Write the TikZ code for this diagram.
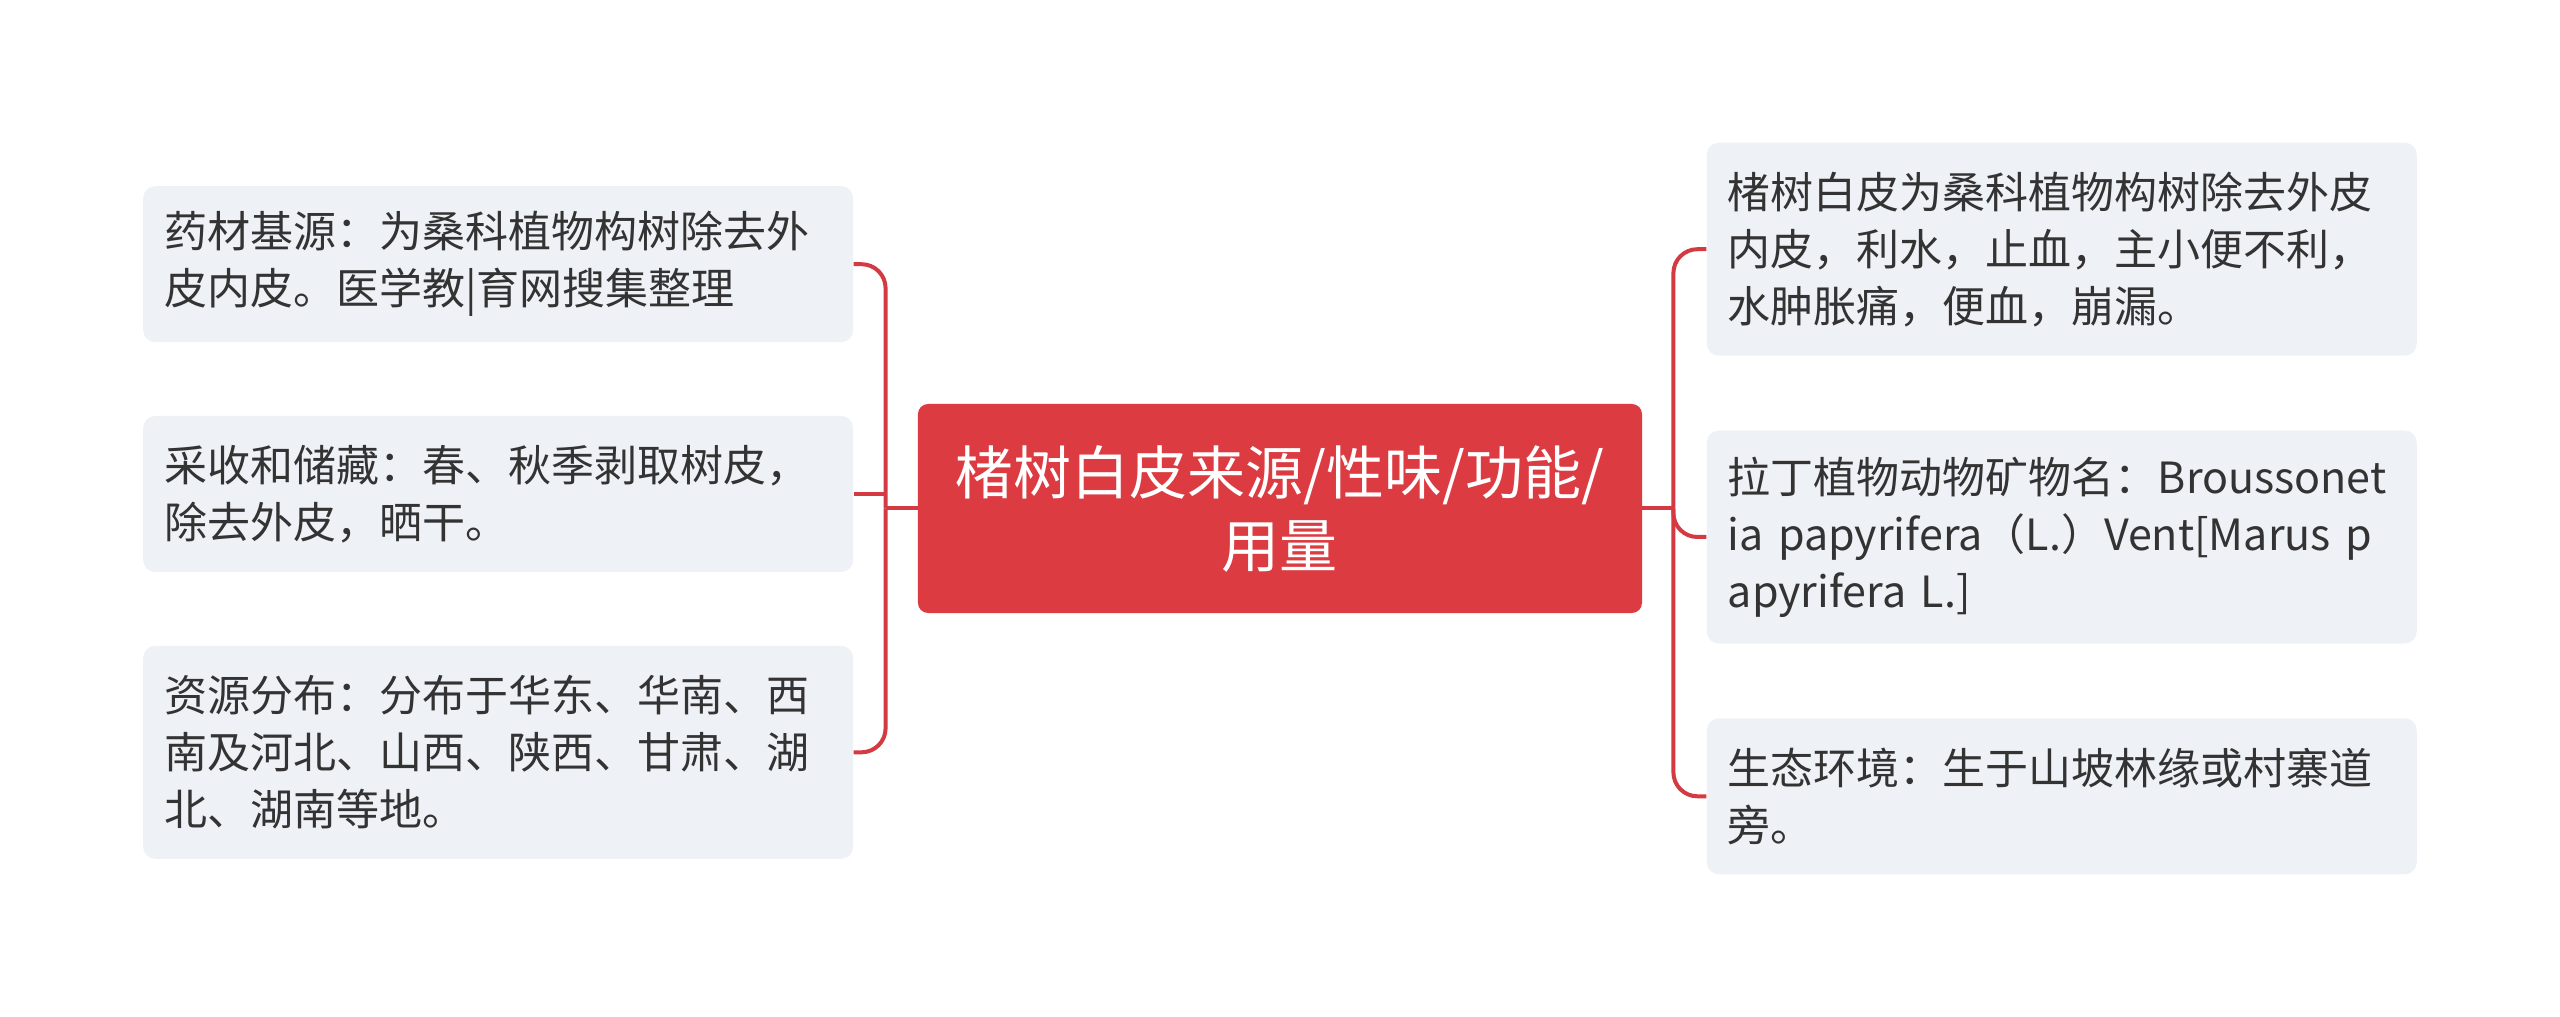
\documentclass[tikz,border=0pt]{standalone}
\usepackage{fontspec}
\newfontfamily\cjk{Noto Sans CJK SC}
\usetikzlibrary{positioning}
\definecolor{rootred}{RGB}{220,59,66}
\definecolor{linkred}{RGB}{211,58,66}
\definecolor{boxgray}{RGB}{238,241,245}
\definecolor{ink}{RGB}{51,51,51}

\begin{document}
\begin{tikzpicture}[
  main/.style={rectangle,rounded corners=5pt,fill=rootred,text=white,minimum width=362pt,minimum height=104.5pt,align=center,font=\cjk\fontsize{29pt}{36.5pt}\selectfont},
  sub/.style={rectangle,rounded corners=6pt,fill=boxgray,text=ink,text width=334pt,inner xsep=10.5pt,inner ysep=6pt,align=left,font=\cjk\fontsize{21.5pt}{28.5pt}\selectfont},
  two/.style={minimum height=78pt},
  three/.style={minimum height=106.5pt},
  wire/.style={draw=linkred,line width=2pt,rounded corners=12pt}]
\useasboundingbox (-640pt,-254.25pt) rectangle (640pt,254.25pt);
\node[main] (root) at (0,0) {楮树白皮来源/性味/功能/\\用量};
% left side
\node[sub,two,left=32pt of root,yshift=7.25pt] (harvest) {采收和储藏：春、秋季剥取树皮，\\除去外皮，晒干。};
\node[sub,two,above=36.5pt of harvest] (origin) {药材基源：为桑科植物构树除去外\\皮内皮。医学教|育网搜集整理};
\node[sub,three,below=36.5pt of harvest] (range) {资源分布：分布于华东、华南、西\\南及河北、山西、陕西、甘肃、湖\\北、湖南等地。};
% right side
\node[sub,three,right=32pt of root,yshift=-14.25pt] (latin) {拉丁植物动物矿物名：Broussonet\\ia papyrifera（L.）Vent[Marus p\\apyrifera L.]};
\node[sub,three,above=37pt of latin] (effect) {楮树白皮为桑科植物构树除去外皮\\内皮，利水，止血，主小便不利，\\水肿胀痛，便血，崩漏。};
\node[sub,two,below=37pt of latin] (habitat) {生态环境：生于山坡林缘或村寨道\\旁。};
\coordinate (lhub) at ([xshift=-16pt]root.west);
\coordinate (rhub) at ([xshift=15.5pt]root.east);
\draw[wire] (root.west) -- (lhub);
\draw[wire] (lhub) |- (origin.east);
\draw[wire] (lhub |- harvest.east) -- (harvest.east);
\draw[wire] (lhub) |- (range.east);
\draw[wire] (root.east) -- (rhub);
\draw[wire] (rhub) |- (effect.west);
\draw[wire] (rhub) |- (latin.west);
\draw[wire] (rhub) |- (habitat.west);
\end{tikzpicture}
\end{document}
